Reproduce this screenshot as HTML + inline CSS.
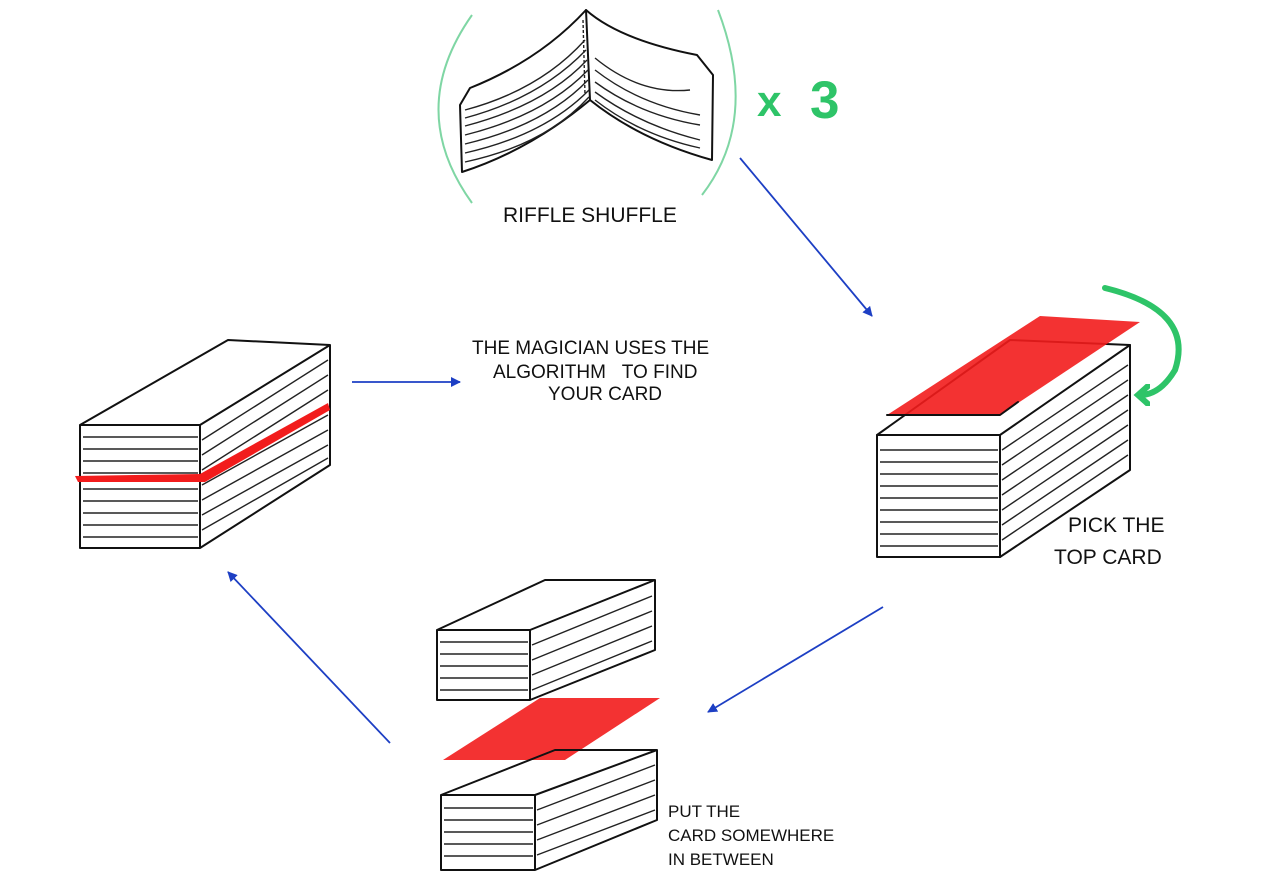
<!DOCTYPE html>
<html><head><meta charset="utf-8">
<style>
html,body{margin:0;padding:0;background:#fff;}
svg{display:block;}
text{font-family:"Liberation Sans",sans-serif;fill:#111;}
.k{stroke:#111;stroke-width:2;fill:none;stroke-linejoin:round;stroke-linecap:round;}
.t{stroke:#222;stroke-width:1.4;fill:none;}
.b{stroke:#1d3fc4;stroke-width:1.8;fill:none;}
.g{stroke:#7fd6a4;stroke-width:2;fill:none;}
</style></head>
<body>
<svg width="1280" height="881" viewBox="0 0 1280 881">
<defs>
<marker id="ah" markerWidth="10" markerHeight="10" refX="9" refY="5" orient="auto" markerUnits="userSpaceOnUse">
<path d="M0,0 L10,5 L0,10 z" fill="#1d3fc4"/></marker>
<marker id="gh" markerWidth="22" markerHeight="22" refX="10" refY="11" orient="auto" markerUnits="userSpaceOnUse">
<path d="M2,2 L12,11 L2,20" stroke="#2ec468" stroke-width="6" fill="none" stroke-linecap="round"/></marker>
</defs>

<g>
<path class="g" d="M472,15 Q405,110 472,203"/>
<path class="g" d="M718,10 Q760,120 702,195"/>
<path class="k" d="M462,172 L460,105 L470,88 Q540,60 586,10 L590,100 Q530,150 462,172"/>
<path class="k" d="M586,10 Q620,40 697,55 L713,75 L712,160 Q640,140 590,100"/>
<path class="t" d="M465,110 Q540,90 585,40 M465,118 Q540,98 586,50 M465,126 Q545,105 587,60 M465,135 Q545,115 588,70 M465,144 Q545,125 588,80 M465,153 Q545,135 589,90 M465,162 Q545,145 589,97"/>
<path class="t" d="M595,58 Q640,95 690,90 M595,70 Q640,105 700,115 M595,82 Q640,115 700,125 M595,92 Q640,125 700,140 M595,100 Q640,135 700,148"/>
<path class="t" d="M583,20 L585,95" stroke-dasharray="3,2"/>
</g>
<text x="757" y="116" font-size="44" font-weight="bold" style="fill:#2ec468">x</text>
<text x="810" y="118" font-size="53" font-weight="bold" style="fill:#2ec468">3</text>
<text x="503" y="222" font-size="21">RIFFLE SHUFFLE</text>

<line class="b" x1="740" y1="158" x2="872" y2="316" marker-end="url(#ah)"/>

<g>
<path class="k" d="M877,435 L1000,435 L1000,557 L877,557 Z"/>
<path class="k" d="M877,435 L1010,340 L1130,345 L1000,435"/>
<path class="k" d="M1000,557 L1130,470 L1130,345"/>
<path class="t" d="M880,450 H998 M880,462 H998 M880,474 H998 M880,486 H998 M880,498 H998 M880,510 H998 M880,522 H998 M880,534 H998 M880,546 H998"/>
<path class="t" d="M1002,450 L1128,365 M1002,465 L1128,380 M1002,480 L1128,395 M1002,495 L1128,410 M1002,510 L1128,425 M1002,525 L1128,440 M1002,540 L1128,455"/>
<path d="M887,415 L1040,316 L1140,322 L1000,415 Z" fill="#f21c1c" opacity="0.9"/>
<path class="k" d="M887,415 L1000,415 L1018,402"/>
</g>
<path d="M1105,288 Q1195,310 1175,370 Q1160,395 1140,395" stroke="#2ec468" stroke-width="6" fill="none" stroke-linecap="round" marker-end="url(#gh)"/>
<text x="1068" y="532" font-size="21">PICK THE</text>
<text x="1054" y="564" font-size="21">TOP CARD</text>

<line class="b" x1="883" y1="607" x2="708" y2="712" marker-end="url(#ah)"/>

<g>
<path class="k" d="M437,630 L530,630 L530,700 L437,700 Z M437,630 L545,580 L655,580 L530,630 M530,700 L655,650 L655,580"/>
<path class="t" d="M440,642 H528 M440,654 H528 M440,666 H528 M440,678 H528 M440,690 H528 M532,645 L652,596 M532,660 L652,611 M532,675 L652,626 M532,690 L652,641"/>
<path d="M443,760 L540,698 L660,698 L565,760 Z" fill="#f21c1c" opacity="0.9"/>
<path class="k" d="M441,795 L535,795 L535,870 L441,870 Z M441,795 L555,750 L657,750 L535,795 M535,870 L657,820 L657,750"/>
<path class="t" d="M444,808 H533 M444,820 H533 M444,832 H533 M444,844 H533 M444,856 H533 M537,810 L655,765 M537,825 L655,780 M537,840 L655,795 M537,855 L655,810"/>
</g>
<text x="668" y="817" font-size="17">PUT THE</text>
<text x="668" y="841" font-size="17">CARD SOMEWHERE</text>
<text x="668" y="865" font-size="17">IN BETWEEN</text>

<line class="b" x1="390" y1="743" x2="228" y2="572" marker-end="url(#ah)"/>

<g>
<path class="k" d="M80,425 L200,425 L200,548 L80,548 Z M80,425 L228,340 L330,345 L200,425 M200,548 L330,465 L330,345"/>
<path class="t" d="M83,437 H198 M83,449 H198 M83,461 H198 M83,473 H198 M83,489 H198 M83,501 H198 M83,513 H198 M83,525 H198 M83,537 H198"/>
<path class="t" d="M202,440 L328,360 M202,455 L328,375 M202,470 L328,390 M202,485 L328,415 M202,500 L328,430 M202,515 L328,445 M202,530 L328,458"/>
<path d="M75,476 L200,474 L328,403 L330,410 L205,482 L78,482 Z" fill="#f21c1c"/>
</g>
<line class="b" x1="352" y1="382" x2="460" y2="382" marker-end="url(#ah)"/>
<text x="472" y="354" font-size="19">THE MAGICIAN USES THE</text>
<text x="493" y="378" font-size="19">ALGORITHM &#160;&#160;TO FIND</text>
<text x="548" y="400" font-size="19">YOUR CARD</text>
</svg>
</body></html>
